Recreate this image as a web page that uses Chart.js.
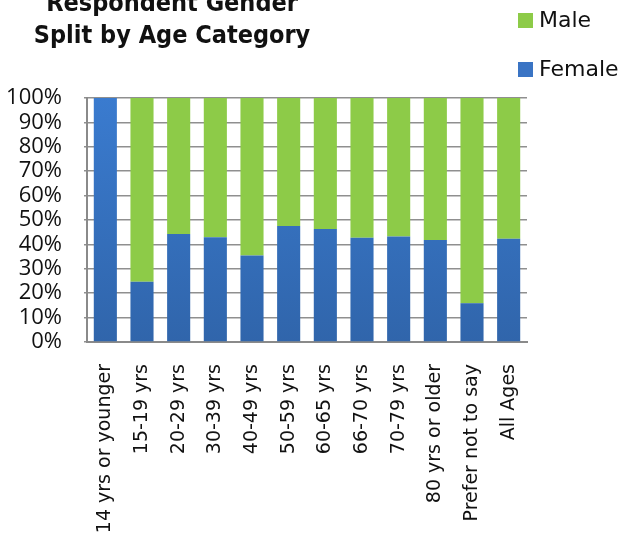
<!doctype html>
<html lang="en">
  <head>
    <meta charset="UTF-8" />
    <title>Respondent Gender Split by Age Category</title>
    <script src="https://cdn.jsdelivr.net/npm/chart.js"></script>
    <style>
      body { margin: 0; background: #fff; }
      #wrap { position: relative; width: 626px; height: 544px; overflow: hidden; }
      #title {
        position: absolute; left: 0; top: -13px; width: 344px;
        text-align: center; font: bold 25px "DejaVu Sans Condensed", "DejaVu Sans", sans-serif;
        line-height: 32px; color: #111;
      }
      .key { position: absolute; left: 518px; font: 22px "DejaVu Sans", sans-serif; color: #111; line-height: 26px; }
      .key i { display: inline-block; width: 15px; height: 15px; margin-right: 6px; vertical-align: -1px; }
    </style>
  </head>
  <body>
    <div id="wrap">
      <canvas id="genderChart" width="626" height="544"></canvas>
      <div id="title">Respondent Gender<br />Split by Age Category</div>
      <div class="key" style="top: 7px"><i style="background: #8dcb48"></i>Male</div>
      <div class="key" style="top: 56px"><i style="background: #3a74c4"></i>Female</div>
    </div>

    <script>
      // Age bands along the x axis
      const ageCategories = [
        "14 yrs or younger",
        "15-19 yrs",
        "20-29 yrs",
        "30-39 yrs",
        "40-49 yrs",
        "50-59 yrs",
        "60-65 yrs",
        "66-70 yrs",
        "70-79 yrs",
        "80 yrs or older",
        "Prefer not to say",
        "All Ages",
      ];

      // Share of respondents (%) in each band
      const femalePct = [100, 24.7, 44.3, 42.9, 35.4, 47.5, 46.3, 42.7, 43.2, 41.8, 15.9, 42.3];
      const malePct = [0, 75.3, 55.7, 57.1, 64.6, 52.5, 53.7, 57.3, 56.8, 58.2, 84.1, 57.7];

      const ctx = document.getElementById("genderChart").getContext("2d");

      // Female bars darken slightly towards the baseline
      function femaleFill(context) {
        const area = context.chart.chartArea;
        if (!area) return "#3a74c4";
        const g = context.chart.ctx.createLinearGradient(0, area.top, 0, area.bottom);
        g.addColorStop(0, "#3a7bcf");
        g.addColorStop(1, "#3065ab");
        return g;
      }

      new Chart(ctx, {
        type: "bar",
        data: {
          labels: ageCategories,
          datasets: [
            {
              label: "Female",
              data: femalePct,
              backgroundColor: femaleFill,
              barPercentage: 0.63,
              categoryPercentage: 1,
            },
            {
              label: "Male",
              data: malePct,
              backgroundColor: "#8dcb48",
              barPercentage: 0.63,
              categoryPercentage: 1,
            },
          ],
        },
        options: {
          responsive: false,
          animation: false,
          layout: { padding: { left: 0, top: 98, right: 99, bottom: 0 } },
          scales: {
            x: {
              stacked: true,
              grid: { display: false },
              border: { display: true, color: "#8a8a8a", width: 2 },
              ticks: {
                color: "#111",
                font: { family: "DejaVu Sans", size: 19 },
                minRotation: 90,
                maxRotation: 90,
                autoSkip: false,
                padding: 14,
              },
              afterFit: (scale) => { scale.height = 202; },
            },
            y: {
              stacked: true,
              min: 0,
              max: 100,
              grid: { color: "#8f8f8f", lineWidth: 1.5, tickLength: 3 },
              border: { display: true, color: "#8a8a8a", width: 2 },
              ticks: {
                stepSize: 10,
                autoSkip: false,
                color: "#111",
                padding: 22,
                font: { family: "Open Sans", size: 22, lineHeight: 1 },
                callback: (v) => v + "%",
              },
              afterFit: (scale) => { scale.width = 87; },
            },
          },
          plugins: {
            legend: { display: false },
            title: { display: false },
            tooltip: { enabled: false },
          },
        },
      });
    </script>
  </body>
</html>
